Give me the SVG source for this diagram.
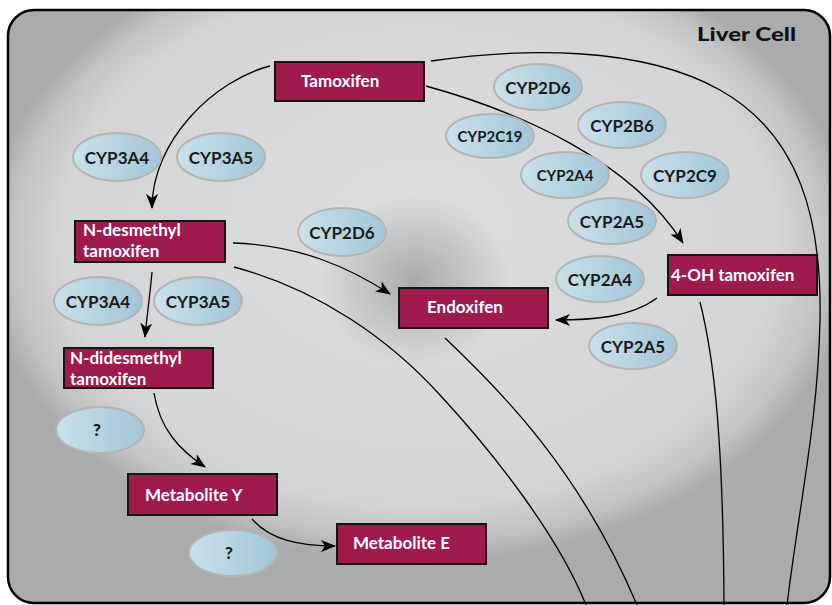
<svg xmlns="http://www.w3.org/2000/svg" width="832" height="605" viewBox="0 0 832 605">
<defs>
<radialGradient id="cellg" cx="0.5" cy="0.4" r="0.53" fx="0.5" fy="0.35">
<stop offset="0" stop-color="#dcdddf"/>
<stop offset="0.82" stop-color="#d4d5d7"/>
<stop offset="0.93" stop-color="#c3c4c6"/>
<stop offset="1" stop-color="#aaabad"/>
</radialGradient>
<radialGradient id="spot" cx="0.5" cy="0.5" r="0.5">
<stop offset="0" stop-color="#88898b" stop-opacity="0.6"/>
<stop offset="1" stop-color="#88898b" stop-opacity="0"/>
</radialGradient>
<linearGradient id="ellg" x1="0" y1="0" x2="1" y2="0">
<stop offset="0" stop-color="#c9e1eb"/>
<stop offset="1" stop-color="#a2c5d5"/>
</linearGradient>
<marker id="arr" markerUnits="userSpaceOnUse" markerWidth="15" markerHeight="12" viewBox="0 0 15 12" refX="14" refY="6" orient="auto">
<path d="M0,0 L15,6 L0,12 L4,6 Z" fill="#000"/>
</marker>
<style>
.node rect{fill:#9e1a4f;stroke:#151515;stroke-width:2}
.node text{fill:#fff;font-family:Lato,"Open Sans","Liberation Sans",sans-serif;font-weight:700;font-size:17px}
.enz ellipse{fill:url(#ellg);stroke:#b4b4b4;stroke-width:2}
.enz text{fill:#1a1a1a;font-family:Lato,"Open Sans","Liberation Sans",sans-serif;font-weight:700;font-size:17px;text-anchor:middle}
.enz text.sm{font-size:15px}
.enz text.md{font-size:15px}
.enz text.q{font-size:17px;font-weight:900}
.conn path{fill:none;stroke:#000;stroke-width:1.3}
.conn path.a{marker-end:url(#arr)}
</style>
</defs>
<rect x="0" y="0" width="832" height="605" fill="#fff"/>
<g id="cell">
<rect x="8" y="10" width="822" height="593" rx="26" fill="url(#cellg)" stroke="#000" stroke-width="2.5"/>
<ellipse cx="415" cy="280" rx="95" ry="85" fill="url(#spot)"/>
<text x="697" y="41" font-family="Lato, Open Sans, Liberation Sans, sans-serif" font-weight="900" font-size="19" fill="#111" textLength="99" lengthAdjust="spacingAndGlyphs">Liver Cell</text>
</g>
<g id="connectors" class="conn">
<path class="a" d="M270,66 C215,80 152,140 152,208"/>
<path class="a" d="M426,86 C520,112 630,160 683,243"/>
<path class="a" d="M233,243 C300,245 350,268 390,294"/>
<path d="M234,267 C320,290 390,340 440,395 C500,460 560,540 586,605"/>
<path d="M445,338 C500,390 580,470 637,605"/>
<path class="a" d="M657,298 C630,318 590,320 556,320"/>
<path d="M700,302 C712,350 723,420 724,605"/>
<path d="M431,61 C520,48 640,45 720,90 C800,135 822,220 820,320 C818,420 800,500 787,605"/>
<path class="a" d="M152,272 C150,295 147,315 145,337"/>
<path class="a" d="M154,393 C160,430 180,450 205,467"/>
<path class="a" d="M252,519 C270,540 300,546 335,546"/>
</g>
<g id="tamoxifen" class="node"><rect x="275" y="62" width="149" height="39"/><text x="301" y="87">Tamoxifen</text></g>
<g id="n-desmethyl" class="node"><rect x="75" y="221" width="150" height="41"/><text x="83" y="236">N-desmethyl</text><text x="83" y="256.5">tamoxifen</text></g>
<g id="n-didesmethyl" class="node"><rect x="64" y="348" width="149" height="40"/><text x="70" y="364">N-didesmethyl</text><text x="70" y="384.5">tamoxifen</text></g>
<g id="endoxifen" class="node"><rect x="399" y="288" width="149" height="40"/><text x="427" y="313">Endoxifen</text></g>
<g id="oh-tamoxifen" class="node"><rect x="668" y="255" width="149" height="40"/><text x="671" y="281">4-OH tamoxifen</text></g>
<g id="metabolite-y" class="node"><rect x="128" y="474" width="149" height="41"/><text x="145" y="501">Metabolite Y</text></g>
<g id="metabolite-e" class="node"><rect x="337" y="524" width="149" height="40"/><text x="353" y="549">Metabolite E</text></g>
<g id="e-cyp2d6-top" class="enz"><ellipse cx="538" cy="87" rx="44" ry="23"/><text x="538" y="94">CYP2D6</text></g>
<g id="e-cyp2b6" class="enz"><ellipse cx="622" cy="125" rx="44" ry="23"/><text x="622" y="132">CYP2B6</text></g>
<g id="e-cyp2c19" class="enz"><ellipse cx="490" cy="136" rx="44" ry="22"/><text class="sm" x="490" y="142">CYP2C19</text></g>
<g id="e-cyp2a4-top" class="enz"><ellipse cx="565" cy="175" rx="44" ry="23"/><text class="md" x="565" y="181">CYP2A4</text></g>
<g id="e-cyp2c9" class="enz"><ellipse cx="685" cy="175" rx="44" ry="23"/><text x="685" y="182">CYP2C9</text></g>
<g id="e-cyp2a5-top" class="enz"><ellipse cx="612" cy="221" rx="44" ry="23"/><text x="612" y="228">CYP2A5</text></g>
<g id="e-cyp2a4-low" class="enz"><ellipse cx="600" cy="279" rx="44" ry="23"/><text x="600" y="286">CYP2A4</text></g>
<g id="e-cyp2a5-low" class="enz"><ellipse cx="633" cy="346" rx="44" ry="23"/><text x="633" y="353">CYP2A5</text></g>
<g id="e-cyp2d6-mid" class="enz"><ellipse cx="342" cy="232" rx="44" ry="24"/><text x="342" y="239">CYP2D6</text></g>
<g id="e-cyp3a4-top" class="enz"><ellipse cx="117" cy="157" rx="44" ry="24"/><text x="117" y="164">CYP3A4</text></g>
<g id="e-cyp3a5-top" class="enz"><ellipse cx="221" cy="157" rx="44" ry="24"/><text x="221" y="164">CYP3A5</text></g>
<g id="e-cyp3a4-low" class="enz"><ellipse cx="98" cy="301" rx="44" ry="24"/><text x="98" y="308">CYP3A4</text></g>
<g id="e-cyp3a5-low" class="enz"><ellipse cx="198" cy="301" rx="44" ry="24"/><text x="198" y="308">CYP3A5</text></g>
<g id="e-q1" class="enz"><ellipse cx="100" cy="430" rx="44" ry="23"/><text class="q" x="97" y="436">?</text></g>
<g id="e-q2" class="enz"><ellipse cx="233" cy="553" rx="44" ry="23"/><text class="q" x="229" y="559">?</text></g>
</svg>
